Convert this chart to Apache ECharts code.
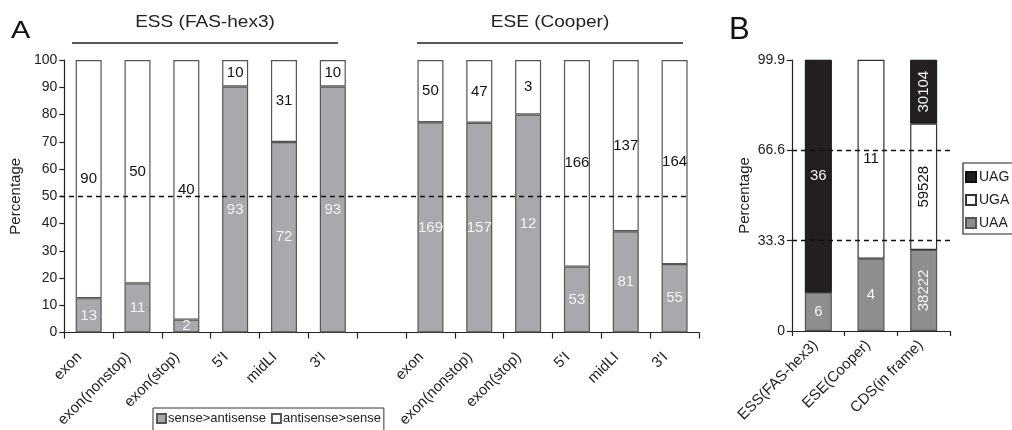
<!DOCTYPE html>
<html>
<head>
<meta charset="utf-8">
<script src="https://cdn.jsdelivr.net/npm/echarts@6/dist/echarts.min.js"></script>
<style>
  html, body { margin: 0; padding: 0; background: #fff; }
  #chart { width: 1012px; height: 430px; }
</style>
</head>
<body>
<div id="chart"></div>
<script>
// Panel A: stop-codon context categories, two groups
const regionLabels = ['exon', 'exon(nonstop)', 'exon(stop)', "5'I", 'midLI', "3'I"];
const groupNames = ['ESS (FAS-hex3)', 'ESE (Cooper)'];
const essSense = [13, 11, 2, 93, 72, 93];
const essAntisense = [90, 50, 40, 10, 31, 10];
const eseSense = [169, 157, 12, 53, 81, 55];
const eseAntisense = [50, 47, 3, 166, 137, 164];
const yTicksA = [0, 10, 20, 30, 40, 50, 60, 70, 80, 90, 100];
const thresholdA = 50;

// Panel B: stop codon usage
const codonCats = ['ESS(FAS-hex3)', 'ESE(Cooper)', 'CDS(in frame)'];
const uaaCounts = [6, 4, 38222];
const ugaCounts = [0, 11, 59528];
const uagCounts = [36, 0, 30104];
const yTicksB = [0, 33.3, 66.6, 99.9];

const FONT = 'Liberation Sans';
const GRAY = '#a8a9ad';
const GRAY_B = '#8e8e90';
const BLACK = '#231f20';

// categories for panel A: six regions, a spacer, six regions
const catsA = [];
regionLabels.forEach((r, i) => catsA.push('a' + i + '|' + r));
catsA.push('gap|');
regionLabels.forEach((r, i) => catsA.push('b' + i + '|' + r));

function pct(part, a, b) { return part / (a + b) * 100; }

const senseData = [], antiData = [];
for (let i = 0; i < 6; i++) {
  senseData.push({ value: pct(essSense[i], essSense[i], essAntisense[i]), count: essSense[i] });
  antiData.push({ value: pct(essAntisense[i], essSense[i], essAntisense[i]), count: essAntisense[i] });
}
senseData.push('-'); antiData.push('-');
for (let i = 0; i < 6; i++) {
  senseData.push({ value: pct(eseSense[i], eseSense[i], eseAntisense[i]), count: eseSense[i] });
  antiData.push({ value: pct(eseAntisense[i], eseSense[i], eseAntisense[i]), count: eseAntisense[i] });
}

function codonPct(arr) {
  return arr.map((v, i) => {
    const total = uaaCounts[i] + ugaCounts[i] + uagCounts[i];
    const item = { value: v / total * 100, count: v };
    if (i === 2) item.label = { rotate: 90 };
    return item;
  });
}

const chart = echarts.init(document.getElementById('chart'), null, { renderer: 'canvas' });

const axisLineStyle = { color: '#222', width: 1.2 };

const staticGraphics = [
  { type: 'text', x: 11, y: 19, scaleX: 1.2,
    style: { text: 'A', font: '24px ' + FONT, fill: '#111' } },
  { type: 'text', x: 729, y: 15,
    style: { text: 'B', font: '31px ' + FONT, fill: '#111' } },
  { type: 'text', x: 205, y: 22, scaleX: 1.12,
    style: { text: groupNames[0], font: '17px ' + FONT, fill: '#222', align: 'center', verticalAlign: 'middle' } },
  { type: 'text', x: 550, y: 22, scaleX: 1.12,
    style: { text: groupNames[1], font: '17px ' + FONT, fill: '#222', align: 'center', verticalAlign: 'middle' } },
  { type: 'line', shape: { x1: 72, y1: 43, x2: 338, y2: 43 }, style: { stroke: '#222', lineWidth: 1.3 } },
  { type: 'line', shape: { x1: 417, y1: 43, x2: 683, y2: 43 }, style: { stroke: '#222', lineWidth: 1.3 } }
];

chart.setOption({
  animation: false,
  textStyle: { fontFamily: FONT },
  graphic: staticGraphics,
  legend: [
    {
      left: 153, top: 408, orient: 'horizontal',
      data: ['sense>antisense', 'antisense>sense'],
      icon: 'rect', itemWidth: 9, itemHeight: 9, itemGap: 5,
      borderColor: '#333', borderWidth: 1, padding: [4, 3, 14, 3],
      textStyle: { fontSize: 13, color: '#222', fontFamily: FONT, padding: [0, 0, 0, -3] }
    },
    {
      left: 963, top: 163, orient: 'vertical',
      data: ['UAG', 'UGA', 'UAA'],
      icon: 'rect', itemWidth: 10, itemHeight: 10, itemGap: 9,
      borderColor: '#222', borderWidth: 1.2, padding: [7, 40, 4, 2],
      textStyle: { fontSize: 14, color: '#222', fontFamily: FONT, padding: [0, 0, 0, -2] }
    }
  ],
  grid: [
    { left: 60, top: 60, width: 639, height: 274 },
    { left: 792, top: 60, width: 158, height: 271 }
  ],
  xAxis: [
    {
      type: 'category', gridIndex: 0, data: catsA,
      axisLine: { lineStyle: axisLineStyle },
      axisTick: { show: true, length: 6, lineStyle: axisLineStyle },
      axisLabel: {
        rotate: 45, margin: 13, fontSize: 15, color: '#222', interval: 0,
        padding: [0, 13, 0, 0],
        formatter: v => v.split('|')[1]
      }
    },
    {
      type: 'category', gridIndex: 1, data: codonCats,
      axisLine: { lineStyle: axisLineStyle },
      axisTick: { show: true, length: 5, lineStyle: axisLineStyle },
      axisLabel: { rotate: 45, margin: 9, fontSize: 15, color: '#222', interval: 0, padding: [0, 4, 0, 0] }
    }
  ],
  yAxis: [
    {
      type: 'value', gridIndex: 0, min: yTicksA[0], max: yTicksA[yTicksA.length - 1], interval: 10,
      name: 'Percentage', nameLocation: 'middle', nameGap: 30,
      nameTextStyle: { fontSize: 15, color: '#222' },
      axisLine: { show: true, lineStyle: axisLineStyle },
      axisTick: { show: true, length: 5, lineStyle: axisLineStyle },
      axisLabel: { fontSize: 14, color: '#222', margin: 7 },
      splitLine: { show: false }
    },
    {
      type: 'value', gridIndex: 1, min: yTicksB[0], max: yTicksB[yTicksB.length - 1], interval: 33.3,
      name: 'Percentage', nameLocation: 'middle', nameGap: 40,
      nameTextStyle: { fontSize: 15, color: '#222' },
      axisLine: { show: true, lineStyle: axisLineStyle },
      axisTick: { show: true, length: 5, lineStyle: axisLineStyle },
      axisLabel: { fontSize: 14, color: '#222', margin: 7, formatter: v => v === 0 ? '0' : v.toFixed(1) },
      splitLine: { show: false }
    }
  ],
  series: [
    {
      name: 'sense>antisense', type: 'bar', stack: 'A', xAxisIndex: 0, yAxisIndex: 0,
      barWidth: 26, data: senseData,
      itemStyle: { color: GRAY, borderColor: '#555', borderWidth: 1.2 },
      label: { show: true, position: 'inside', color: '#f4f4f4', fontSize: 15, formatter: p => p.data.count }
    },
    {
      name: 'antisense>sense', type: 'bar', stack: 'A', xAxisIndex: 0, yAxisIndex: 0,
      barWidth: 26, data: antiData,
      itemStyle: { color: '#fff', borderColor: '#555', borderWidth: 1.2 },
      label: { show: true, position: 'inside', color: '#111', fontSize: 15, formatter: p => p.data.count }
    },
    {
      name: 'UAA', type: 'bar', stack: 'B', xAxisIndex: 1, yAxisIndex: 1,
      barWidth: 27, data: codonPct(uaaCounts),
      itemStyle: { color: GRAY_B, borderColor: '#555', borderWidth: 1.2 },
      label: { show: true, position: 'inside', color: '#f4f4f4', fontSize: 15, formatter: p => p.data.count || '' }
    },
    {
      name: 'UGA', type: 'bar', stack: 'B', xAxisIndex: 1, yAxisIndex: 1,
      barWidth: 27, data: codonPct(ugaCounts),
      itemStyle: { color: '#fff', borderColor: '#333', borderWidth: 1.2 },
      label: { show: true, position: 'inside', color: '#111', fontSize: 15, formatter: p => p.data.count || '' },
      markLine: {
        silent: true, symbol: 'none', label: { show: false },
        lineStyle: { color: '#111', type: [5, 4], width: 1.3 },
        data: [{ yAxis: 33.3 }, { yAxis: 66.6 }]
      }
    },
    {
      name: 'UAG', type: 'bar', stack: 'B', xAxisIndex: 1, yAxisIndex: 1,
      barWidth: 27, data: codonPct(uagCounts),
      itemStyle: { color: BLACK, borderColor: '#111', borderWidth: 1 },
      label: { show: true, position: 'inside', color: '#f4f4f4', fontSize: 15, formatter: p => p.data.count || '' }
    }
  ]
});

// 50% reference line for panel A, placed through the y scale
const yHalf = Math.round(chart.convertToPixel({ yAxisIndex: 0 }, thresholdA)) + 0.5;
chart.setOption({
  graphic: staticGraphics.concat([{
    type: 'line', z: 10,
    shape: { x1: 60, y1: yHalf, x2: 688, y2: yHalf },
    style: { stroke: '#111', lineWidth: 1.4, lineDash: [5, 4] }
  }])
});
</script>
</body>
</html>
